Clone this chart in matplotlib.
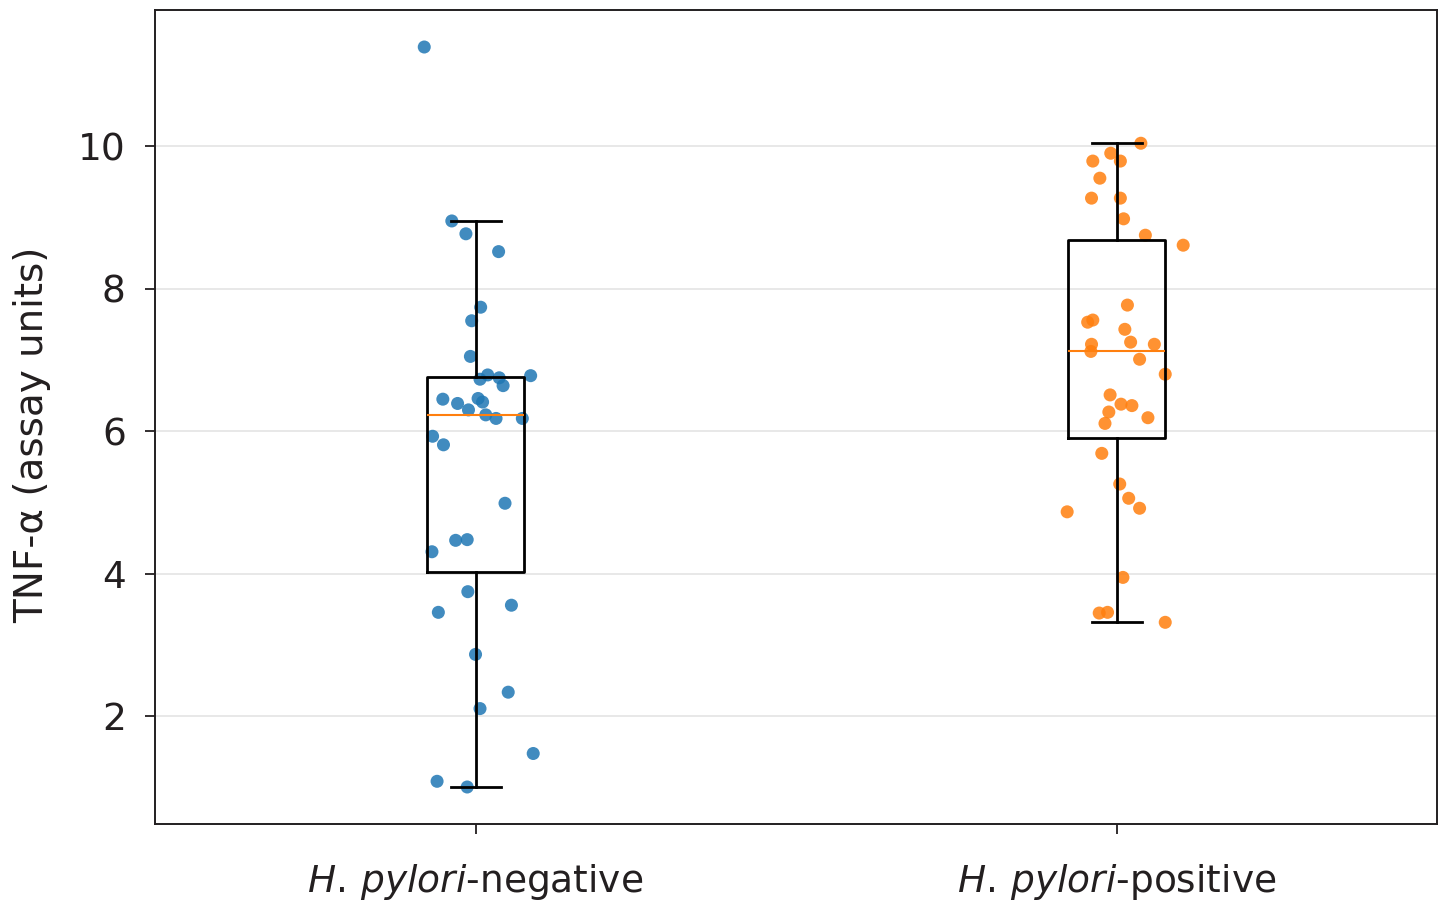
import matplotlib
matplotlib.use('Agg')
import matplotlib.pyplot as plt

# TNF-alpha values, per group
neg_values = [11.39, 8.95, 8.77, 8.52, 7.74, 7.55, 7.05, 6.79, 6.73, 6.75,
              6.64, 6.78, 6.45, 6.39, 6.46, 6.41, 6.30, 6.23, 6.18, 6.18,
              5.93, 5.81, 4.99, 4.47, 4.48, 4.31, 3.75, 3.46, 3.56, 2.87,
              2.34, 2.11, 1.48, 1.09, 1.01]
neg_jitter = [-0.080, -0.037, -0.015, 0.036, 0.008, -0.006, -0.008, 0.019, 0.007, 0.037,
              0.043, 0.086, -0.051, -0.028, 0.004, 0.011, -0.011, 0.016, 0.032, 0.073,
              -0.067, -0.050, 0.046, -0.031, -0.013, -0.068, -0.012, -0.058, 0.056, 0.000,
              0.051, 0.007, 0.090, -0.060, -0.013]

pos_values = [10.04, 9.90, 9.79, 9.79, 9.55, 9.27, 9.27, 8.98, 8.75, 8.61,
              7.77, 7.53, 7.56, 7.43, 7.22, 7.12, 7.25, 7.22, 7.01, 6.80,
              6.51, 6.38, 6.36, 6.27, 6.19, 6.11, 5.69, 5.26, 5.06, 4.92,
              4.87, 3.95, 3.45, 3.46, 3.32]
pos_jitter = [0.038, -0.009, -0.037, 0.006, -0.026, -0.039, 0.006, 0.011, 0.045, 0.104,
              0.017, -0.045, -0.037, 0.013, -0.039, -0.040, 0.022, 0.059, 0.036, 0.076,
              -0.010, 0.007, 0.024, -0.012, 0.049, -0.018, -0.023, 0.005, 0.019, 0.036,
              -0.077, 0.010, -0.027, -0.014, 0.076]

group_labels = [r'$\mathit{H.\,pylori}$-negative', r'$\mathit{H.\,pylori}$-positive']
group_colors = ['#1f77b4', '#ff7f0e']
y_label = 'TNF-α (assay units)'

plt.rcParams['font.family'] = ['DejaVu Sans']
plt.rcParams['mathtext.fontset'] = 'dejavusans'
text_color = '#231f20'

fig = plt.figure(figsize=(14.53, 9.10), dpi=100)
ax = fig.add_axes([0.1067, 0.0945, 0.8823, 0.8945])

groups = [neg_values, pos_values]
jitters = [neg_jitter, pos_jitter]
for i, (vals, jit) in enumerate(zip(groups, jitters)):
    xs = [i + j for j in jit]
    ax.scatter(xs, vals, s=88, color=group_colors[i], alpha=0.85,
               edgecolors='none', zorder=2)

ax.boxplot(groups, positions=[0, 1], widths=0.15, showfliers=False,
           capwidths=0.078, patch_artist=False, zorder=3,
           boxprops=dict(color='black', linewidth=2.0),
           whiskerprops=dict(color='black', linewidth=2.0),
           capprops=dict(color='black', linewidth=2.0),
           medianprops=dict(color='#ff7f0e', linewidth=1.5))

ax.set_xlim(-0.5, 1.5)
ax.set_xticks([0, 1])
ax.set_xticklabels(group_labels)
ax.set_yticks([2, 4, 6, 8, 10])
ax.yaxis.grid(True, color='#e6e6e6', linewidth=1.3)
ax.set_axisbelow(True)
ax.set_ylabel(y_label, fontsize=28, color=text_color)
ax.yaxis.set_label_coords(-0.081, 0.478)
ax.tick_params(axis='both', labelsize=27, colors=text_color, length=7, width=1.3,
               direction='out')
ax.tick_params(axis='x', pad=20)
ax.tick_params(axis='y', pad=14)
for sp in ax.spines.values():
    sp.set_color('#231f20')
    sp.set_linewidth(1.4)

fig.savefig('out.png', dpi=100)
